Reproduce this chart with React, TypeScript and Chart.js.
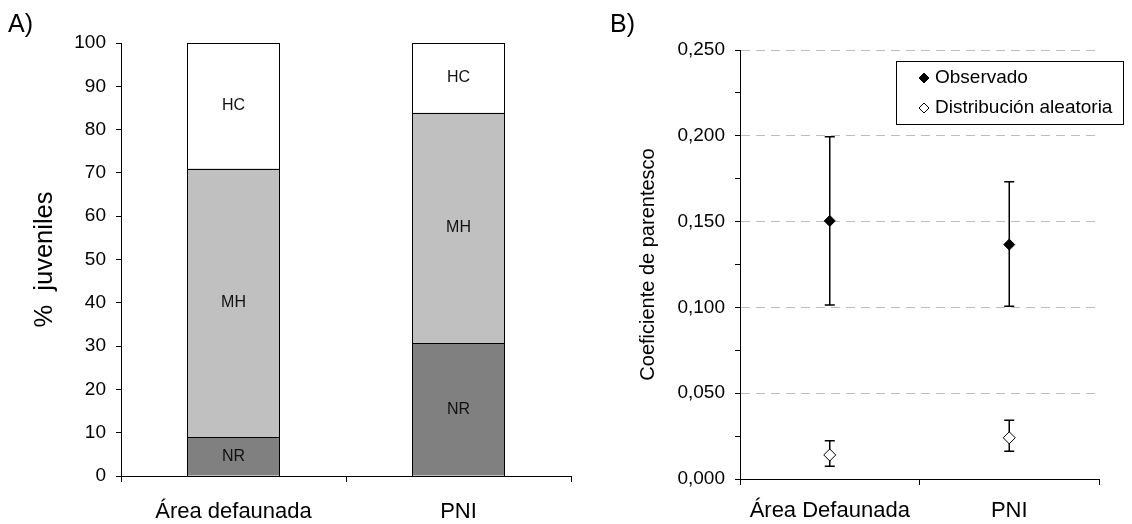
import React, { useEffect, useRef } from 'react';
import { Chart, registerables } from 'chart.js';

Chart.register(...registerables);

const FONT = '"Liberation Sans", Arial, Helvetica, sans-serif';

// ---- Panel A data (stacked %) ----
const barCategories = ['Área defaunada', 'PNI'];
const nrValues = [9.0, 30.7];
const mhValues = [62.0, 53.2];
const hcValues = [29.0, 16.1];
const segmentNames = ['NR', 'MH', 'HC'];
const yTitleA = '%  juveniles';

// ---- Panel B data (points with error bars) ----
const pointCategories = ['Área Defaunada', 'PNI'];
const observedValues = [0.1504, 0.1366];
const observedLow = [0.1014, 0.1006];
const observedHigh = [0.1994, 0.1732];
const randomValues = [0.014, 0.024];
const randomLow = [0.0074, 0.0161];
const randomHigh = [0.0223, 0.0342];
const legendLabels = ['Observado', 'Distribución aleatoria'];
const yTitleB = 'Coeficiente de parentesco';

const panelLetter = (id: string, text: string, x: number, y: number) => ({
  id,
  afterDraw(chart: any) {
    const { ctx } = chart;
    ctx.save();
    ctx.font = `25px ${FONT}`;
    ctx.fillStyle = '#000';
    ctx.textAlign = 'left';
    ctx.textBaseline = 'alphabetic';
    ctx.fillText(text, x, y);
    ctx.restore();
  },
});

// crisp 1px outlines + centred segment names
const segmentPlugin = {
  id: 'segmentLabels',
  afterDatasetsDraw(chart: any) {
    const { ctx } = chart;
    ctx.save();
    ctx.strokeStyle = '#000';
    ctx.lineWidth = 1;
    chart.data.datasets.forEach((_ds: any, di: number) => {
      chart.getDatasetMeta(di).data.forEach((el: any) => {
        const l = Math.round(el.x - el.width / 2) + 0.5;
        const r = Math.round(el.x + el.width / 2) - 0.5;
        const t = Math.round(el.y) + 0.5;
        const b = Math.round(el.base) + 0.5;
        ctx.strokeRect(l, t, r - l, b - t);
      });
    });
    ctx.font = `16px ${FONT}`;
    ctx.fillStyle = '#111';
    ctx.textAlign = 'center';
    ctx.textBaseline = 'middle';
    chart.data.datasets.forEach((ds: any, di: number) => {
      chart.getDatasetMeta(di).data.forEach((el: any) => {
        ctx.fillText(ds.label, el.x, (el.y + el.base) / 2);
      });
    });
    ctx.restore();
  },
};

const errorBarPlugin = {
  id: 'errorBars',
  beforeDatasetsDraw(chart: any) {
    const { ctx } = chart;
    const yScale = chart.scales.y;
    const ranges = [
      [observedLow, observedHigh],
      [randomLow, randomHigh],
    ];
    ctx.save();
    ctx.strokeStyle = '#000';
    ctx.lineWidth = 1.5;
    chart.data.datasets.forEach((_ds: any, di: number) => {
      const [lo, hi] = ranges[di];
      chart.getDatasetMeta(di).data.forEach((pt: any, i: number) => {
        const x = pt.x;
        const yl = yScale.getPixelForValue(lo[i]);
        const yh = yScale.getPixelForValue(hi[i]);
        ctx.beginPath();
        ctx.moveTo(x, yl);
        ctx.lineTo(x, yh);
        ctx.moveTo(x - 5, yl);
        ctx.lineTo(x + 5, yl);
        ctx.moveTo(x - 5, yh);
        ctx.lineTo(x + 5, yh);
        ctx.stroke();
      });
    });
    ctx.restore();
  },
};

const diamond = (ctx: any, x: number, y: number, r: number, fill: string) => {
  ctx.beginPath();
  ctx.moveTo(x, y - r);
  ctx.lineTo(x + r, y);
  ctx.lineTo(x, y + r);
  ctx.lineTo(x - r, y);
  ctx.closePath();
  ctx.fillStyle = fill;
  ctx.fill();
  ctx.strokeStyle = '#000';
  ctx.lineWidth = 1;
  ctx.stroke();
};

const legendBoxPlugin = {
  id: 'legendBox',
  afterDraw(chart: any) {
    const { ctx } = chart;
    ctx.save();
    ctx.strokeStyle = '#000';
    ctx.lineWidth = 1;
    ctx.strokeRect(316.5, 61.5, 227, 63);
    const rows = [78, 108];
    const fills = ['#000', '#fff'];
    ctx.font = `19px ${FONT}`;
    ctx.textAlign = 'left';
    ctx.textBaseline = 'middle';
    rows.forEach((ry, i) => {
      diamond(ctx, 344, ry, 5, fills[i]);
      ctx.fillStyle = '#000';
      ctx.fillText(legendLabels[i], 355, ry);
    });
    ctx.restore();
  },
};

function PanelA() {
  const ref = useRef<HTMLCanvasElement | null>(null);
  useEffect(() => {
    const canvas = ref.current!;
    const mk = (label: string, data: number[], color: string) => ({
      label,
      data,
      backgroundColor: color,
      borderWidth: 0,
      barPercentage: 0.413,
      categoryPercentage: 1,
    });
    const chart = new Chart(canvas, {
      type: 'bar',
      data: {
        labels: barCategories,
        datasets: [
          mk(segmentNames[0], nrValues, '#808080'),
          mk(segmentNames[1], mhValues, '#c0c0c0'),
          mk(segmentNames[2], hcValues, '#ffffff'),
        ],
      },
      options: {
        responsive: false,
        animation: false,
        devicePixelRatio: 1,
        layout: { padding: { left: 0, right: 9, top: 43, bottom: 0 } },
        plugins: { legend: { display: false }, tooltip: { enabled: false } },
        scales: {
          x: {
            stacked: true,
            offset: true,
            grid: { offset: true, drawOnChartArea: false, tickLength: 6, color: '#000' },
            border: { color: '#000' },
            ticks: { font: { family: FONT, size: 22 }, color: '#000', padding: 17, maxRotation: 0 },
            afterFit: (s: any) => { s.height = 48; },
          },
          y: {
            stacked: true,
            min: 0,
            max: 100,
            ticks: { stepSize: 10, font: { family: FONT, size: 19 }, color: '#000', padding: 10 },
            grid: { drawOnChartArea: false, tickLength: 5, color: '#000' },
            border: { color: '#000' },
            title: {
              display: true,
              text: yTitleA,
              font: { family: FONT, size: 25.5 },
              color: '#000',
              padding: { top: 30, bottom: 0 },
            },
            afterFit: (s: any) => { s.width = 121; },
          },
        },
      } as any,
      plugins: [segmentPlugin, panelLetter('letterA', 'A)', 8, 32)],
    });
    return () => chart.destroy();
  }, []);
  return (
    <canvas
      ref={ref}
      width={580}
      height={524}
      style={{ position: 'absolute', left: 0, top: 0, width: 580, height: 524 }}
    />
  );
}

function PanelB() {
  const ref = useRef<HTMLCanvasElement | null>(null);
  useEffect(() => {
    const canvas = ref.current!;
    const chart = new Chart(canvas, {
      type: 'line',
      data: {
        labels: pointCategories,
        datasets: [
          {
            label: legendLabels[0],
            data: observedValues,
            showLine: false,
            pointStyle: 'rectRot',
            pointRadius: 5.5,
            backgroundColor: '#000',
            borderColor: '#000',
            pointBorderWidth: 1,
          },
          {
            label: legendLabels[1],
            data: randomValues,
            showLine: false,
            pointStyle: 'rectRot',
            pointRadius: 6,
            backgroundColor: '#fff',
            borderColor: '#000',
            pointBorderWidth: 1,
          },
        ],
      },
      options: {
        responsive: false,
        animation: false,
        devicePixelRatio: 1,
        layout: { padding: { left: 0, right: 33, top: 50, bottom: 0 } },
        plugins: { legend: { display: false }, tooltip: { enabled: false } },
        scales: {
          x: {
            offset: true,
            grid: { offset: true, drawOnChartArea: false, tickLength: 6, color: '#000' },
            border: { color: '#000' },
            ticks: { font: { family: FONT, size: 22 }, color: '#000', padding: 13, maxRotation: 0 },
            afterFit: (s: any) => { s.height = 45; },
          },
          y: {
            min: 0,
            max: 0.25,
            ticks: {
              stepSize: 0.025,
              font: { family: FONT, size: 19 },
              color: '#000',
              padding: 10,
              callback: (v: any, i: number) => (i % 2 === 0 ? Number(v).toFixed(3).replace('.', ',') : ''),
            },
            grid: {
              color: (c: any) => (c.index % 2 === 0 && c.index > 0 ? '#bdbdbd' : 'rgba(0,0,0,0)'),
              tickColor: '#000',
              tickLength: 5,
              tickBorderDash: [],
            },
            border: { color: '#000', dash: [9, 6] },
            title: {
              display: true,
              text: yTitleB,
              font: { family: FONT, size: 20 },
              color: '#000',
              padding: { top: 56, bottom: 0 },
            },
            afterFit: (s: any) => { s.width = 160; },
          },
        },
      } as any,
      plugins: [errorBarPlugin, legendBoxPlugin, panelLetter('letterB', 'B)', 30, 32)],
    });
    return () => chart.destroy();
  }, []);
  return (
    <canvas
      ref={ref}
      width={552}
      height={524}
      style={{ position: 'absolute', left: 580, top: 0, width: 552, height: 524 }}
    />
  );
}

export default function App() {
  return (
    <div style={{ position: 'absolute', left: 0, top: 0, width: 1132, height: 524, background: '#fff', overflow: 'hidden' }}>
      <PanelA />
      <PanelB />
    </div>
  );
}
